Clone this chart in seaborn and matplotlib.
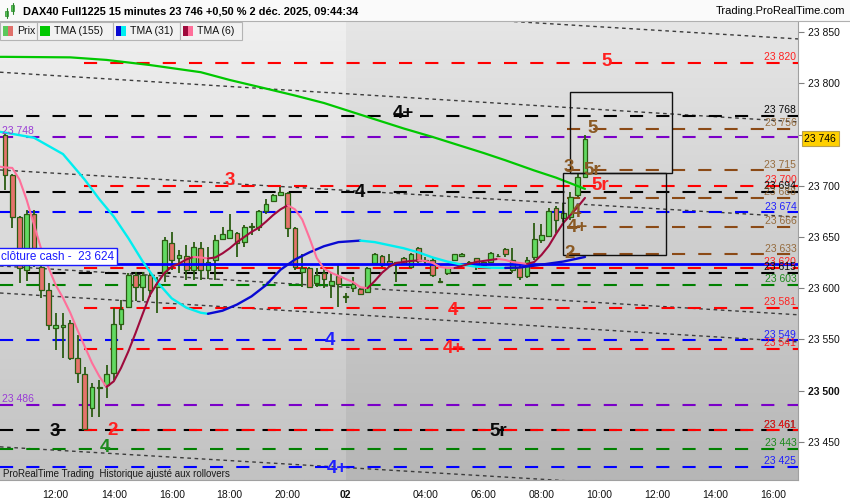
import numpy as np
import pandas as pd
import matplotlib
matplotlib.use("Agg")
import matplotlib.pyplot as plt
from matplotlib.patches import Rectangle
import seaborn as sns

# ---------------- data ----------------
bar_open = [23750, 23711, 23670, 23618, 23672, 23621, 23598, 23561, 23562, 23566,
            23532, 23516, 23483, 23502, 23505, 23517, 23565, 23582, 23613, 23601,
            23613, 23601, 23615, 23644, 23629, 23631, 23618, 23639, 23618, 23628,
            23648, 23649, 23654, 23645, 23660, 23660, 23675, 23685, 23691, 23693,
            23659, 23616, 23620, 23605, 23615, 23603, 23612, 23591, 23600, 23599,
            23596, 23625, 23631, 23627, 23625, 23629, 23621, 23639, 23627, 23628,
            23606, 23615, 23628, 23631, 23626, 23629, 23623, 23626, 23631, 23638,
            23618, 23621, 23612, 23630, 23647, 23651, 23678, 23669, 23670, 23691,
            23709]
bar_high = [23752, 23712, 23671, 23676, 23676, 23623, 23605, 23576, 23576, 23569,
            23554, 23523, 23507, 23510, 23525, 23581, 23588, 23615, 23616, 23616,
            23616, 23611, 23650, 23655, 23637, 23642, 23645, 23645, 23640, 23652,
            23660, 23672, 23655, 23662, 23664, 23676, 23687, 23692, 23699, 23694,
            23660, 23633, 23621, 23620, 23620, 23616, 23623, 23595, 23611, 23600,
            23621, 23634, 23632, 23633, 23626, 23630, 23634, 23640, 23630, 23630,
            23610, 23621, 23633, 23634, 23627, 23629, 23627, 23635, 23633, 23639,
            23639, 23626, 23630, 23664, 23663, 23678, 23680, 23683, 23694, 23713,
            23750]
bar_low = [23696, 23659, 23605, 23607, 23621, 23590, 23559, 23540, 23532, 23530,
           23507, 23461, 23474, 23474, 23493, 23510, 23559, 23581, 23587, 23587,
           23591, 23576, 23606, 23618, 23615, 23608, 23608, 23608, 23609, 23608,
           23647, 23648, 23630, 23640, 23652, 23656, 23672, 23684, 23690, 23650,
           23618, 23601, 23600, 23601, 23600, 23590, 23582, 23586, 23596, 23593,
           23595, 23623, 23621, 23621, 23606, 23623, 23620, 23625, 23623, 23611,
           23605, 23613, 23627, 23630, 23623, 23618, 23622, 23625, 23630, 23630,
           23615, 23608, 23610, 23628, 23644, 23650, 23654, 23665, 23667, 23689,
           23708]
bar_close = [23711, 23670, 23620, 23672, 23639, 23598, 23564, 23564, 23564, 23532,
             23517, 23462, 23503, 23503, 23516, 23565, 23580, 23613, 23601, 23613,
             23598, 23604, 23647, 23628, 23632, 23618, 23640, 23618, 23626, 23647,
             23653, 23657, 23644, 23660, 23661, 23675, 23682, 23691, 23694, 23659,
             23621, 23620, 23601, 23613, 23609, 23607, 23604, 23592, 23604, 23594,
             23620, 23633, 23623, 23624, 23625, 23625, 23633, 23627, 23627, 23613,
             23606, 23621, 23633, 23633, 23624, 23623, 23626, 23634, 23631, 23633,
             23628, 23611, 23628, 23648, 23652, 23675, 23667, 23673, 23689, 23709,
             23746]

tick_bars = [7, 15, 23, 31, 39, 47, 58, 66, 74, 82, 90, 98, 106]
tick_labels = ["12:00", "14:00", "16:00", "18:00", "20:00", "02", "04:00",
               "06:00", "08:00", "10:00", "12:00", "14:00", "16:00"]

tma155_bars = [-1, 0, 9, 14, 20, 27, 31, 36, 40, 44, 47, 50, 55, 59, 62, 66, 69,
               73, 76, 80]
tma155_vals = [23826, 23826, 23825.5, 23823, 23818, 23811, 23803.4, 23795, 23788.2,
               23780.9, 23774.1, 23767.3, 23756, 23747.7, 23741, 23732.1, 23725,
               23715, 23708, 23697]

tma31_bars = [-1, 0, 4, 8, 11, 13, 15, 17, 19, 21, 23, 25, 27, 28, 30, 32, 34, 36,
              38, 40, 42, 44, 46, 48, 49, 51, 53, 55, 57, 59, 61, 63, 65, 67, 69,
              71, 73, 75, 77, 79, 80]
tma31_vals = [23753, 23752, 23747, 23731, 23706, 23687, 23670, 23649, 23626, 23606,
              23590, 23581, 23576, 23575, 23578, 23584, 23592, 23603, 23618, 23628,
              23635, 23641, 23645, 23646, 23646.5, 23645, 23642, 23639, 23635, 23630,
              23626, 23623, 23621, 23620, 23619.8, 23620.2, 23622, 23624, 23626,
              23629, 23630.5]

tma6_bars = list(range(-1, 81))
tma6_vals = [23719, 23718, 23717.5, 23706, 23686, 23662, 23638, 23620, 23603, 23590.5,
             23576, 23559, 23543, 23527, 23514, 23503.5, 23509, 23522, 23538, 23556,
             23575, 23593.5, 23605, 23615, 23621, 23624, 23628, 23630.5, 23630, 23629,
             23630, 23634, 23639, 23645, 23650, 23655, 23659, 23665, 23671.5, 23677,
             23681, 23677, 23667, 23649, 23629.5, 23619, 23615, 23612, 23609, 23606,
             23601, 23600, 23607, 23615, 23621, 23624.7, 23625.6, 23626.6, 23627.1, 23626.6,
             23624.7, 23620.7, 23619.8, 23619.7, 23621.7, 23623.7, 23625.6, 23626.6, 23627.6, 23628.6,
             23627.6, 23625.6, 23624.7, 23623.7, 23625.6, 23632.5, 23641.3, 23653, 23663.7, 23671.5,
             23679.4, 23688.2]

level_prices = [23820, 23768, 23756, 23748, 23715, 23700, 23694, 23688, 23674, 23660,
                23633, 23620, 23615, 23603, 23581, 23549, 23541, 23486, 23461, 23461,
                23443, 23425]
level_kinds = ["red", "black", "brown", "purple", "brown", "red", "black", "brown",
               "blue", "brown", "brown", "red", "black", "green", "red", "blue", "red",
               "purple", "black", "red", "green", "blue"]
level_texts = ["23 820", "23 768", "23 756", "", "23 715", "23 700", "23 694", "23 688",
               "23 674", "23 666", "23 633", "23 620", "23 615", "23 603", "23 581",
               "23 549", "23 541", "", "23 461", "23 461", "23 443", "23 425"]
left_level_texts = ["23 748", "23 486"]
left_level_prices = [23748, 23486]

wave_texts = ["5", "4+", "3", "4", "4", "4", "4+", "3", "2", "4", "5r", "4+",
              "5", "3", "5r", "4", "4+", "2", "5r"]
wave_bars = [83.0, 54.9, 31.0, 49.0, 44.8, 61.8, 61.8, 6.9, 14.9, 13.8, 68.0, 45.9,
             81.0, 77.8, 81.0, 78.8, 78.9, 77.9, 82.1]
wave_prices = [23821, 23771, 23705, 23693, 23549, 23578, 23541, 23460, 23461, 23444,
               23460, 23424, 23756, 23718, 23715, 23674, 23659, 23634, 23700]
wave_kinds = ["red", "black", "red", "black", "blue", "red", "red", "black", "red",
              "green", "black", "blue", "brown", "brown", "brown", "brown", "brown",
              "brown", "red"]

trend_x0 = [70.2, -0.7, -0.7, -0.7, -0.7, -0.7]
trend_p0 = [23860.5, 23811, 23715.5, 23621.7, 23595.3, 23445]
trend_x1 = [109.4, 109.4, 109.4, 109.4, 109.4, 82.8]
trend_p1 = [23843.5, 23762.5, 23669.5, 23574, 23547.5, 23409.6]

box_x0 = [77.9, 77.0]
box_x1 = [92.0, 91.2]
box_plo = [23712.6, 23632.5]
box_phi = [23791.7, 23712.6]

price_ticks = [23450, 23500, 23550, 23600, 23650, 23700, 23750, 23800, 23850]
last_price = 23746
cash_close = 23624
red_start_bar = 10.9
brown_start_bar = 77.5

# ---------------- style ----------------
sns.set_style("white")
plt.rcParams["font.family"] = ["Liberation Sans", "DejaVu Sans"]

line_col = {"red": "#ff0000", "black": "#000000", "brown": "#8b4a16",
            "purple": "#7a00c8", "blue": "#0000ff", "green": "#008000"}
text_col = {"red": "#ff2020", "black": "#0a0a0a", "brown": "#8b5a24",
            "purple": "#9a3cd6", "blue": "#2020ff", "green": "#1e8a1e"}

XMIN, XMAX = -0.69, 109.38
YMIN, YMAX = 23412.6, 23862.0

fig = plt.figure(figsize=(8.5, 5), dpi=100)
fig.patch.set_facecolor("white")
ax = fig.add_axes([0, 20 / 500, 798 / 850, 460 / 500])

# background gradients (previous session lighter, current session darker)
def grad(top, bot):
    t = np.linspace(0, 1, 200)[:, None]
    a = np.array(matplotlib.colors.to_rgb(top))
    b = np.array(matplotlib.colors.to_rgb(bot))
    return (a * (1 - t) + b * t).reshape(200, 1, 3)

ax.imshow(grad("#f0f0f0", "#c2c2c2"), extent=[XMIN, 47.0, YMIN, YMAX],
          aspect="auto", zorder=0, interpolation="bilinear")
ax.imshow(grad("#e6e6e6", "#b6b6b6"), extent=[47.0, XMAX, YMIN, YMAX],
          aspect="auto", zorder=0, interpolation="bilinear")

# dotted trend lines
for x0, p0, x1, p1 in zip(trend_x0, trend_p0, trend_x1, trend_p1):
    ax.plot([x0, x1], [p0, p1], color="#3c3c3c", lw=1.0,
            linestyle=(0, (2.6, 2.6)), zorder=2)

# horizontal levels
dash = (0, (6.3, 6.3))
for p, k, t in zip(level_prices, level_kinds, level_texts):
    if k == "red":
        x0 = red_start_bar
    elif k == "brown":
        x0 = brown_start_bar
    else:
        x0 = XMIN
    ax.hlines(p, x0, XMAX, colors=line_col[k], lw=1.5, linestyles=dash, zorder=3)
    if t:
        ax.text(109.15, p + 0.8, t, color=text_col[k], fontsize=7.5, ha="right",
                va="bottom", zorder=8, alpha=0.85 if k == "brown" else 1.0)
for p, t in zip(left_level_prices, left_level_texts):
    ax.text(-0.45, p + 0.8, t, color=text_col["purple"], fontsize=7.5, ha="left",
            va="bottom", zorder=8)

# candles
df = pd.DataFrame({"bar": np.arange(len(bar_open)), "o": bar_open, "h": bar_high,
                   "l": bar_low, "c": bar_close})
edge = "#2b5c12"
ax.vlines(df["bar"], df["l"], df["h"], colors=edge, lw=1.3, zorder=4)
up = df["c"] >= df["o"]
body_lo = np.minimum(df["o"], df["c"])
body_h = np.maximum(np.abs(df["c"] - df["o"]), 0.8)
ax.bar(df["bar"], body_h, bottom=body_lo, width=0.68,
       color=np.where(up, "#62da62", "#e5736c"), edgecolor=edge, lw=0.9, zorder=5)

# cash close line
ax.hlines(cash_close, XMIN, XMAX, colors="#0000ff", lw=2.0, zorder=6)

# moving averages
def colored_runs(xs, ys, c_up, c_down, lw):
    start = 0
    for k in range(1, len(xs)):
        cur = ys[k] > ys[k - 1]
        nxt = ys[k + 1] > ys[k] if k + 1 < len(xs) else None
        if nxt is None or nxt != cur:
            seg = pd.DataFrame({"x": xs[start:k + 1], "y": ys[start:k + 1]})
            sns.lineplot(data=seg, x="x", y="y", ax=ax, color=c_up if cur else c_down,
                         lw=lw, sort=False, estimator=None, legend=False, zorder=7)
            start = k

sns.lineplot(x=tma155_bars, y=tma155_vals, ax=ax, color="#00c800", lw=1.6,
             sort=False, estimator=None, legend=False, zorder=7)
colored_runs(tma31_bars, tma31_vals, "#0a0ad2", "#00eef0", 1.7)
colored_runs(tma6_bars, tma6_vals, "#9e0a3c", "#ff6f9a", 1.5)

# boxes
for x0, x1, lo, hi in zip(box_x0, box_x1, box_plo, box_phi):
    ax.add_patch(Rectangle((x0, lo), x1 - x0, hi - lo, fill=False,
                           edgecolor="#101010", lw=1.0, zorder=8))

# wave labels
for t, b, p, k in zip(wave_texts, wave_bars, wave_prices, wave_kinds):
    ax.text(b, p, t, color=text_col[k], fontsize=13.5, fontweight="bold",
            ha="center", va="center", zorder=9)

# cash close tag
ax.text(-0.55, cash_close + 1.0, "clôture cash -  23 624", color="#1a1aff",
        fontsize=8.5, ha="left", va="bottom", zorder=10,
        bbox=dict(boxstyle="square,pad=0.22", fc="white", ec="#1a1aff", lw=1.0))

# axes limits / ticks
ax.set_xlim(XMIN, XMAX)
ax.set_ylim(YMIN, YMAX)
ax.yaxis.tick_right()
ax.set_yticks(price_ticks)
# the 23 750 label sits behind the last-price tag, so it is left blank
ax.set_yticklabels(["" if v == 23750 else f"{v:,}".replace(",", " ")
                    for v in price_ticks])
for lab, v in zip(ax.get_yticklabels(), price_ticks):
    if v == 23500:
        lab.set_fontweight("bold")
ax.set_xticks(tick_bars)
ax.set_xticklabels(tick_labels)
for lab, t in zip(ax.get_xticklabels(), tick_labels):
    if t == "02":
        lab.set_fontweight("bold")
ax.tick_params(axis="y", direction="out", length=4, width=0.8, color="#808080",
               labelsize=7.5, pad=3, labelcolor="#111111")
ax.tick_params(axis="x", direction="out", length=3, width=0.8, color="#808080",
               labelsize=7.5, pad=4, labelcolor="#111111")
ax.set_xlabel("")
ax.set_ylabel("")
ax.spines["left"].set_visible(False)
for s in ["right", "bottom", "top"]:
    ax.spines[s].set_color("#a0a0a0")
    ax.spines[s].set_linewidth(0.8)

# last price tag
ax.text(1.008, last_price, "23 746", transform=ax.get_yaxis_transform(),
        fontsize=7.5, ha="left", va="center", color="#000000", zorder=12,
        clip_on=False,
        bbox=dict(boxstyle="square,pad=0.25", fc="#ffd000", ec="#b8a050", lw=0.8))

ax.text(0.004, 0.003, "ProRealTime Trading  Historique ajusté aux rollovers",
        transform=ax.transAxes, fontsize=7, color="#1a1a1a", ha="left",
        va="bottom", zorder=10)

# ---------------- header and legend (pixel overlay) ----------------
ov = fig.add_axes([0, 0, 1, 1], facecolor="none")
ov.set_xlim(0, 850)
ov.set_ylim(500, 0)
ov.axis("off")
ov.add_patch(Rectangle((0, 0), 850, 20.5, fc="#fafafa", ec="none"))
ov.plot([0, 850], [20.8, 20.8], color="#b0b0b0", lw=0.8)
# small candle icon
ov.plot([7, 7], [8, 18], color="#2b8a2b", lw=0.8)
ov.add_patch(Rectangle((5.5, 11), 3, 5, fc="#5ac85a", ec="#2b8a2b", lw=0.5))
ov.plot([13, 13], [3, 14], color="#2b8a2b", lw=0.8)
ov.add_patch(Rectangle((11.5, 5), 3, 6, fc="#5ac85a", ec="#2b8a2b", lw=0.5))
ov.text(23, 11, "DAX40 Full1225 15 minutes 23 746 +0,50 % 2 déc. 2025, 09:44:34",
        fontsize=7.9, fontweight="bold", ha="left", va="center", color="#000000")
ov.text(845, 11, "Trading.ProRealTime.com", fontsize=8, ha="right", va="center",
        color="#000000")

legend_edges = [0, 37.5, 113, 180, 242]
legend_names = ["Prix", "TMA (155)", "TMA (31)", "TMA (6)"]
legend_cols = [("#5ac85a", "#e0706a"), ("#00c800", "#00c800"),
               ("#0a0ad2", "#00eef0"), ("#9e0a3c", "#ff6f9a")]
for k, name in enumerate(legend_names):
    x0, x1 = legend_edges[k], legend_edges[k + 1]
    ov.add_patch(Rectangle((x0, 22), x1 - x0, 18, fc="#f2f2f2", ec="#b4b4b4",
                           lw=0.8, zorder=20))
    c1, c2 = legend_cols[k]
    ov.add_patch(Rectangle((x0 + 3, 26), 5, 10, fc=c1, ec="none", zorder=21))
    ov.add_patch(Rectangle((x0 + 8, 26), 5, 10, fc=c2, ec="none", zorder=21))
    ov.text(x0 + 17, 31.5, name, fontsize=7.6, ha="left", va="center",
            color="#111111", zorder=22)

fig.savefig("out.png", dpi=100)
